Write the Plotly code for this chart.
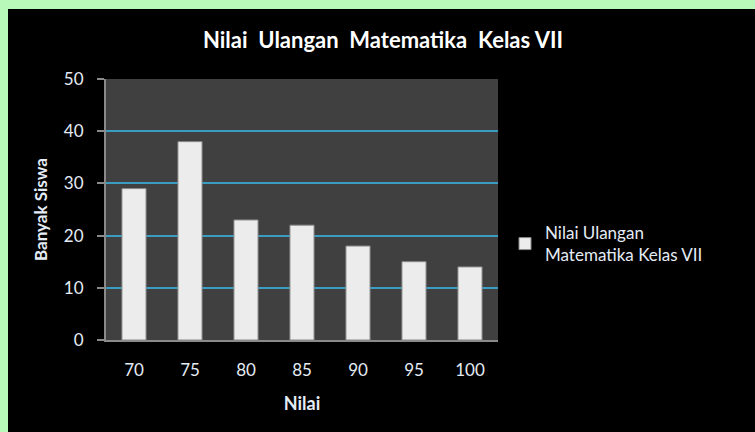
import plotly.graph_objects as go

categories = ["70", "75", "80", "85", "90", "95", "100"]
values = [29, 38, 23, 22, 18, 15, 14]
series_name = "Nilai Ulangan<br>Matematika Kelas VII"
title_text = "Nilai Ulangan Matematika Kelas VII"
x_title = "Nilai"
y_title = "Banyak Siswa"
y_ticks = [0, 10, 20, 30, 40, 50]

W, H = 755, 432
L, R, T, B = 106, 257, 79, 92
pw, ph = W - L - R, H - T - B

def px_x(p):
    return (p - L) / pw

def px_y(p):
    return (H - B - p) / ph

font_family = "Lato, 'Open Sans', sans-serif"
txt_col = "#e4ecf6"
nb = "\u00a0"
title_shown = title_text.replace("Nilai ", "Nilai " + nb).replace("Ulangan ", "Ulangan " + nb).replace("Matematika ", "Matematika " + nb)

fig = go.Figure(go.Bar(
    x=categories, y=values, name=series_name,
    marker=dict(color="#ececec", line=dict(color="#8a8a8a", width=1)),
    showlegend=True,
))

fig.update_layout(
    width=W, height=H,
    margin=dict(l=L, r=R, t=T, b=B),
    paper_bgcolor="#000000",
    plot_bgcolor="#404040",
    bargap=0.57,
    title=dict(text="<b>" + title_shown + "</b>", x=383 / W, xanchor="center",
               y=1 - 40 / H, yanchor="middle",
               font=dict(family=font_family, size=22, color="#ffffff")),
    font=dict(family=font_family, color=txt_col),
    legend=dict(x=px_x(505), xanchor="left", y=px_y(244), yanchor="middle",
                font=dict(size=17, color=txt_col), bgcolor="rgba(0,0,0,0)",
                itemwidth=30),
    xaxis=dict(
        title=dict(text="<b>" + x_title + "</b>", font=dict(size=18, color=txt_col), standoff=18),
        tickfont=dict(size=17, color=txt_col),
        showline=True, linecolor="#8a8a8a", linewidth=2,
        ticks="", showgrid=False, ticklabelstandoff=14,
    ),
    yaxis=dict(
        title=dict(text="<b>" + y_title + "</b>", font=dict(size=17, color=txt_col), standoff=12),
        range=[0, 50], tickvals=y_ticks,
        tickfont=dict(size=17, color=txt_col),
        showline=True, linecolor="#8a8a8a", linewidth=2,
        ticks="outside", ticklen=7, tickcolor="#8a8a8a", tickwidth=2,
        ticklabelstandoff=10,
        showgrid=True, gridcolor="#3a9cc0", gridwidth=2,
        zeroline=False,
    ),
    shapes=[
        dict(type="rect", xref="paper", yref="paper",
             x0=px_x(-5), x1=px_x(8), y0=px_y(H + 5), y1=px_y(-5),
             fillcolor="#b8f8b8", line=dict(width=0), layer="above"),
        dict(type="rect", xref="paper", yref="paper",
             x0=px_x(-5), x1=px_x(W + 5), y0=px_y(9), y1=px_y(-5),
             fillcolor="#b8f8b8", line=dict(width=0), layer="above"),
    ],
)

fig.write_html("out.html", config={"displayModeBar": False},
               post_script="document.body.style.margin='0';document.body.style.overflow='hidden';")
